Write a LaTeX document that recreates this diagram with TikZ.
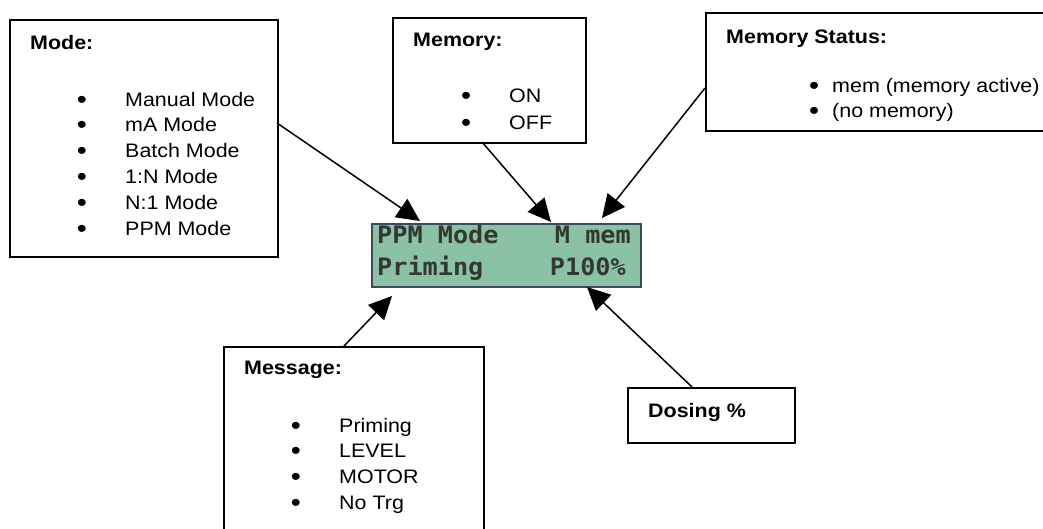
\documentclass[tikz,border=0pt]{standalone}
\usepackage{fontspec}
\setmainfont[FakeStretch=1.1]{Liberation Sans}
\newfontfamily\lcdfont[FakeStretch=1.05]{DejaVu Sans Mono}
\usetikzlibrary{arrows.meta}
\definecolor{lcdfill}{HTML}{8BC2A6}
\definecolor{lcdedge}{HTML}{3C4B5A}
\definecolor{lcdtext}{HTML}{333835}
\tikzset{
  box/.style={draw=black, line width=1.6pt, fill=white, inner sep=0pt, anchor=north west},
  ttl/.style={anchor=base west, inner sep=0pt, font=\fontsize{19.5}{22}\selectfont\bfseries},
  itm/.style={anchor=base west, inner sep=0pt, font=\fontsize{19.5}{22}\selectfont},
  bul/.style={anchor=base, inner sep=0pt, font=\fontsize{26}{28}\selectfont},
  lcdtxt/.style={inner sep=0pt, text=lcdtext, font=\fontsize{24}{26}\selectfont\lcdfont\bfseries},
  arr/.style={line width=1.5pt, -{Triangle[length=23pt,width=22pt]}}
}
\begin{document}
\begin{tikzpicture}[x=1pt,y=-1pt]
\useasboundingbox (0,0) rectangle (1043,528);
\clip (0,0) rectangle (1043,528);

% Mode box
\node[box, minimum width=268pt, minimum height=237pt] (mode) at (9,19) {};
\node[ttl] (modet) at (30,49) {Mode:};
\foreach \i/\t in {0/Manual Mode,1/mA Mode,2/Batch Mode,3/1:N Mode,4/N:1 Mode,5/PPM Mode}{
  \node[bul] (modeb\i) at (82,108+25.8*\i) {•};
  \node[itm] (modei\i) at (125,106+25.8*\i) {\t};
}

% Memory box
\node[box, minimum width=193pt, minimum height=125pt] (mem) at (392,17) {};
\node[ttl] (memt) at (413,46) {Memory:};
\node[bul] (memb0) at (466,104) {•};
\node[itm] (memi0) at (509,102) {ON};
\node[bul] (memb1) at (466,131) {•};
\node[itm] (memi1) at (509,129) {OFF};

% Memory status box
\node[box, minimum width=345pt, minimum height=118pt] (mst) at (705,12) {};
\node[ttl] (mstt) at (726,43) {Memory Status:};
\node[bul] (mstb0) at (814,94) {•};
\node[itm] (msti0) at (832,92) {mem (memory active)};
\node[bul] (mstb1) at (814,119) {•};
\node[itm] (msti1) at (832,117) {(no memory)};

% LCD
\node[draw=lcdedge, line width=2pt, fill=lcdfill, inner sep=0pt, anchor=north west,
      minimum width=269pt, minimum height=63pt] (lcd) at (371,223) {};
\node[lcdtxt, anchor=base west] (l1) at (377,243) {PPM Mode};
\node[lcdtxt, anchor=base east] (r1) at (631,243) {M mem};
\node[lcdtxt, anchor=base west] (l2) at (377,275) {Priming};
\node[lcdtxt, anchor=base east] (r2) at (626,275) {P100\%};

% Message box
\node[box, minimum width=260pt, minimum height=200pt] (msg) at (223,346) {};
\node[ttl] (msgt) at (244,374) {Message:};
\foreach \i/\t in {0/Priming,1/LEVEL,2/MOTOR,3/No Trg}{
  \node[bul] (msgb\i) at (296,434+25.7*\i) {•};
  \node[itm] (msgi\i) at (339,432+25.7*\i) {\t};
}

% Dosing box
\node[box, minimum width=167pt, minimum height=55pt] (dos) at (627,387) {};
\node[ttl] (dost) at (648,417) {Dosing \%};

% arrow end points
\coordinate (modeout) at (277,123);
\coordinate (lcdA) at (420,221);
\coordinate (memout) at (482,142);
\coordinate (lcdB) at (551,222);
\coordinate (mstout) at (705,88);
\coordinate (lcdC) at (602,218);
\coordinate (msgout) at (344,346);
\coordinate (lcdD) at (392,296);
\coordinate (dosout) at (692,387);
\coordinate (lcdE) at (587,287);

\draw[arr] (modeout) -- (lcdA);
\draw[arr] (memout) -- (lcdB);
\draw[arr] (mstout) -- (lcdC);
\draw[arr] (msgout) -- (lcdD);
\draw[arr] (dosout) -- (lcdE);
\end{tikzpicture}
\end{document}
